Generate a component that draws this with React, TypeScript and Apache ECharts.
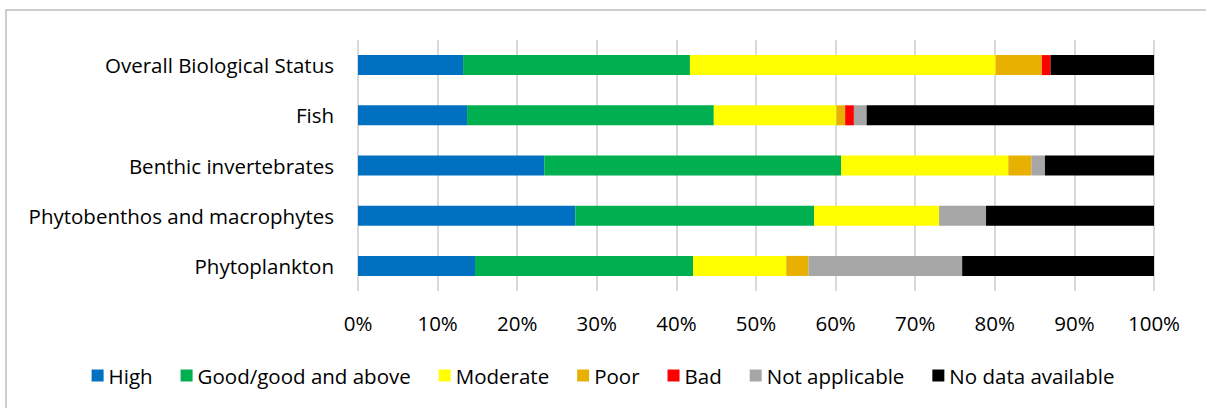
import React, { useEffect, useRef } from "react";
import * as echarts from "echarts";

const categories = [
  "Overall Biological Status",
  "Fish",
  "Benthic invertebrates",
  "Phytobenthos and macrophytes",
  "Phytoplankton",
];

const seriesNames = [
  "High",
  "Good/good and above",
  "Moderate",
  "Poor",
  "Bad",
  "Not applicable",
  "No data available",
];

const high = [13.2, 13.7, 23.4, 27.3, 14.7];
const good = [28.5, 31.0, 37.3, 30.0, 27.4];
const moderate = [38.4, 15.4, 21.0, 15.7, 11.7];
const poor = [5.8, 1.1, 2.9, 0, 2.8];
const bad = [1.1, 1.1, 0, 0, 0];
const notApplicable = [0, 1.6, 1.7, 5.9, 19.3];
const noData = [13.0, 36.1, 13.7, 21.1, 24.1];

const colors = ["#0070C0", "#00B050", "#FFFF00", "#E8B000", "#FF0000", "#A6A6A6", "#000000"];

const xTicks = [0, 10, 20, 30, 40, 50, 60, 70, 80, 90, 100];

const FONT = "'Open Sans', 'Noto Sans', sans-serif";
const FS = 20.5;

export default function App() {
  const ref = useRef<HTMLDivElement>(null);
  useEffect(() => {
    if (!ref.current) return;
    const chart = echarts.init(ref.current, undefined, { renderer: "svg" });
    const values = [high, good, moderate, poor, bad, notApplicable, noData];
    chart.setOption({
      animation: false,
      textStyle: { fontFamily: FONT },
      graphic: [
        {
          type: "rect",
          shape: { x: 6, y: 10, width: 1220, height: 420 },
          style: { fill: "none", stroke: "#bfbfbf", lineWidth: 1.5 },
          silent: true,
        },
      ],
      grid: { left: 358, right: 52, top: 40, bottom: 117, containLabel: false },
      xAxis: {
        type: "value",
        min: xTicks[0],
        max: xTicks[xTicks.length - 1],
        interval: 10,
        axisLine: { show: false },
        axisTick: { show: false },
        splitLine: { show: true, lineStyle: { color: "#d9d9d9", width: 2 } },
        axisLabel: {
          formatter: "{value}%",
          fontSize: FS,
          color: "#000",
          fontFamily: FONT,
          margin: 21,
        },
      },
      yAxis: {
        type: "category",
        data: categories,
        inverse: true,
        axisLine: { show: false },
        axisTick: { show: false },
        axisLabel: { fontSize: FS, color: "#000", fontFamily: FONT, margin: 24 },
      },
      legend: {
        bottom: 17,
        left: "center",
        itemWidth: 12,
        itemHeight: 12,
        itemGap: 28,
        icon: "rect",
        textStyle: { fontSize: FS, color: "#000", fontFamily: FONT },
        data: seriesNames,
      },
      series: seriesNames.map((name, i) => ({
        name,
        type: "bar",
        stack: "total",
        barWidth: 20,
        data: values[i],
        itemStyle: { color: colors[i] },
      })),
    });
    return () => chart.dispose();
  }, []);
  return (
    <div
      ref={ref}
      style={{ position: "absolute", left: 0, top: 0, width: 1206, height: 408, background: "#fff" }}
    />
  );
}
